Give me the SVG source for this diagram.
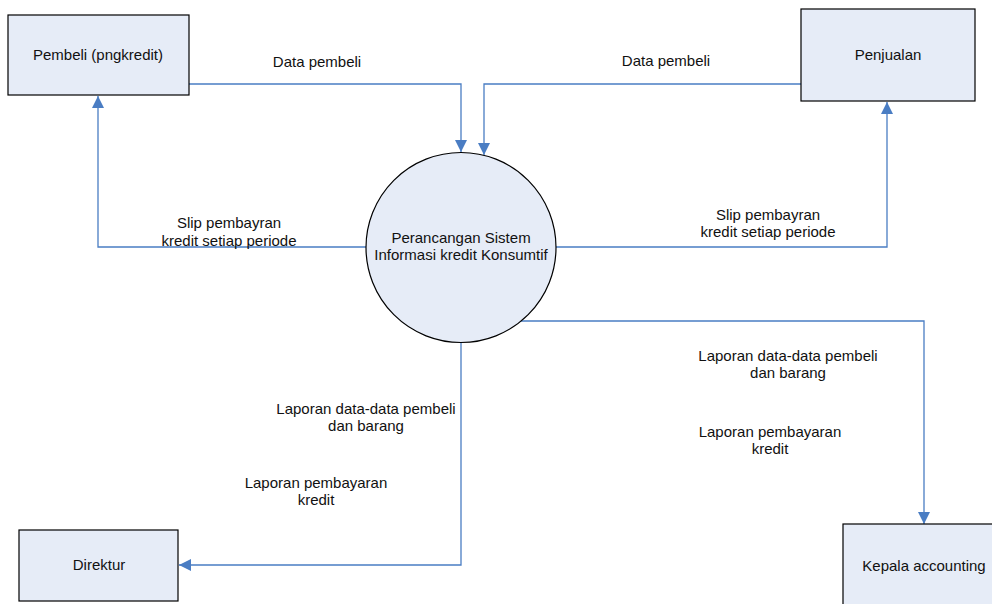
<svg xmlns="http://www.w3.org/2000/svg" width="992" height="604" viewBox="0 0 992 604">
  <style>
    .node { fill: #E6ECF7; stroke: #000000; stroke-width: 1.2; }
    .flow { fill: none; stroke: #4A7DC3; stroke-width: 1.3; }
    text { font-family: "Liberation Sans", Arial, sans-serif; font-size: 15px; fill: #111111; text-anchor: middle; }
  </style>
  <defs>
    <marker id="arrow" markerUnits="userSpaceOnUse" markerWidth="12" markerHeight="12" viewBox="0 0 10 10" refX="10" refY="5" orient="auto">
      <path d="M0,0 L10,5 L0,10 Z" fill="#4A7DC3"/>
    </marker>
  </defs>

  <rect width="992" height="604" fill="#ffffff"/>

  <!-- data flows -->
  <g id="connectors">
    <path class="flow" d="M189,84 H461 V152" marker-end="url(#arrow)"/>
    <path class="flow" d="M801,84 H484 V155" marker-end="url(#arrow)"/>
    <path class="flow" d="M366,247 H98 V96" marker-end="url(#arrow)"/>
    <path class="flow" d="M556,247 H887 V102" marker-end="url(#arrow)"/>
    <path class="flow" d="M521,321 H924 V524" marker-end="url(#arrow)"/>
    <path class="flow" d="M461,343 V565 H179" marker-end="url(#arrow)"/>
  </g>

  <!-- flow labels -->
  <g id="labels">
    <text x="317" y="67">Data pembeli</text>
    <text x="666" y="66">Data pembeli</text>
    <text x="229" y="228">Slip pembayran</text>
    <text x="229" y="246">kredit setiap periode</text>
    <text x="768" y="220">Slip pembayran</text>
    <text x="768" y="237">kredit setiap periode</text>
    <text x="788" y="361">Laporan data-data pembeli</text>
    <text x="788" y="378">dan barang</text>
    <text x="770" y="437">Laporan pembayaran</text>
    <text x="770" y="454">kredit</text>
    <text x="366" y="414">Laporan data-data pembeli</text>
    <text x="366" y="431">dan barang</text>
    <text x="316" y="488">Laporan pembayaran</text>
    <text x="316" y="505">kredit</text>
  </g>

  <g id="pembeli">
    <rect class="node" x="8" y="15" width="181" height="80"/>
    <text x="98" y="60">Pembeli (pngkredit)</text>
  </g>

  <g id="penjualan">
    <rect class="node" x="801" y="9" width="174" height="92"/>
    <text x="888" y="60">Penjualan</text>
  </g>

  <g id="proses">
    <circle class="node" cx="461" cy="247.5" r="95"/>
    <text x="461" y="243">Perancangan Sistem</text>
    <text x="461" y="260">Informasi kredit Konsumtif</text>
  </g>

  <g id="direktur">
    <rect class="node" x="19" y="530" width="159" height="71"/>
    <text x="99" y="570">Direktur</text>
  </g>

  <g id="kepala-accounting">
    <rect class="node" x="843" y="524" width="162" height="84"/>
    <text x="924" y="571">Kepala accounting</text>
  </g>
</svg>
